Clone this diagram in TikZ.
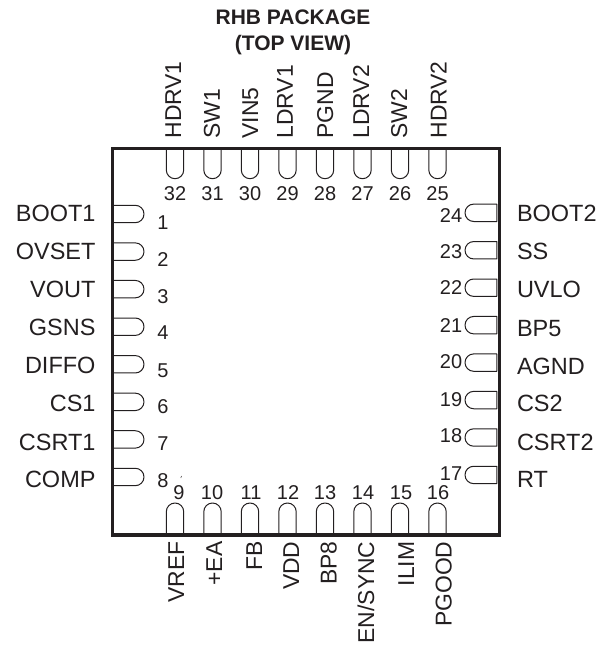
\documentclass[tikz,border=0pt]{standalone}
\usepackage{fontspec}
\setmainfont{Liberation Sans}
\definecolor{ink}{HTML}{231F20}
\tikzset{
  x=1pt,y=-1pt,
  pkgbody/.style={draw=ink,line width=3.2pt,line join=miter},
  pinoutline/.style={draw=ink,line width=1pt,line join=round},
  txt/.style={inner sep=0pt,outer sep=0pt,text=ink,text depth=0pt},
  pinname/.style={txt,font=\fontsize{22.9}{22.9}\selectfont,text height=16.4pt},
  sidename/.style={txt,font=\fontsize{23.5}{23.5}\selectfont,text height=16.8pt},
  pinnum/.style={txt,font=\fontsize{20}{20}\selectfont,text height=14.3pt},
  titletxt/.style={txt,font=\fontsize{21}{21}\selectfont\bfseries,text height=15pt}
}
\begin{document}
\begin{tikzpicture}
\useasboundingbox (0,0) rectangle (608,647);
\node[titletxt] (t1) at (293,16.7) {RHB PACKAGE};
\node[titletxt] (t2) at (293,43.5) {(TOP VIEW)};
\path[pkgbody] (112.7,148.3) rectangle (499.3,535);
% top pins
\foreach \i/\n/\t/\lx in {0/32/HDRV1/173,1/31/SW1/211.7,2/30/VIN5/250,3/29/LDRV1/284.7,4/28/PGND/324.8,5/27/LDRV2/361,6/26/SW2/399,7/25/HDRV2/438.3}{
  \pgfmathsetmacro{\px}{175+37.5*\i}
  \path[pinoutline] (\px-8.7,148.3) -- (\px-8.7,170) arc[start angle=180,end angle=360,radius=8.7pt] -- (\px+8.7,148.3);
  \node[pinnum] (n\n) at (\px,193) {\n};
  \node[pinname,rotate=90,anchor=west] (p\n) at (\lx,138.5) {\t};
}
% bottom pins
\foreach \i/\n/\t/\nx/\lx in {0/9/VREF/179/176,1/10/+EA/212/214,2/11/FB/251/254,3/12/VDD/288/290.8,4/13/BP8/325/328.3,5/14/EN\slash SYNC/363/365.8,6/15/ILIM/401/406,7/16/PGOOD/438/443.3}{
  \pgfmathsetmacro{\px}{175+37.5*\i}
  \path[pinoutline] (\px-8.7,535) -- (\px-8.7,511.7) arc[start angle=180,end angle=0,radius=8.7pt] -- (\px+8.7,535);
  \node[pinnum] (n\n) at (\nx,492) {\n};
  \node[pinname,rotate=90,anchor=east] (p\n) at (\lx,541.6) {\t};
}
% left pins
\foreach \i/\n/\t/\ny/\ly in {0/1/BOOT1/222.3/212.7,1/2/OVSET/259.3/250.7,2/3/VOUT/296.7/289.3,3/4/GSNS/332.7/327.3,4/5/DIFFO/370.7/365,5/6/CS1/406.7/402.7,6/7/CSRT1/443.3/441.7,7/8/COMP/480/479.3}{
  \pgfmathsetmacro{\py}{214+37.57*\i}
  \path[pinoutline] (112.7,\py-8.7) -- (135.3,\py-8.7) arc[start angle=90,end angle=-90,radius=8.7pt] -- (112.7,\py+8.7);
  \node[pinnum] (n\n) at (163,\ny) {\n};
  \node[sidename,anchor=east] (p\n) at (95.5,\ly) {\t};
}
% right pins
\foreach \i/\n/\t/\ny/\ly in {0/24/BOOT2/215/212.7,1/23/SS/251.7/250.7,2/22/UVLO/287.7/289,3/21/BP5/325/327.7,4/20/AGND/361.7/365.7,5/19/CS2/399/403.3,6/18/CSRT2/435/441.7,7/17/RT/473.3/479.3}{
  \pgfmathsetmacro{\py}{212.8+37.45*\i}
  \path[pinoutline] (496.8,\py-8.7) -- (473.7,\py-8.7) arc[start angle=90,end angle=270,radius=8.7pt] -- (496.8,\py+8.7) -- cycle;
  \node[pinnum] (n\n) at (451,\ny) {\n};
  \node[sidename,anchor=west] (p\n) at (517,\ly) {\t};
}
\draw[draw=ink,line width=.5pt] (181.5,476) -- (180.8,478);
\end{tikzpicture}
\end{document}
